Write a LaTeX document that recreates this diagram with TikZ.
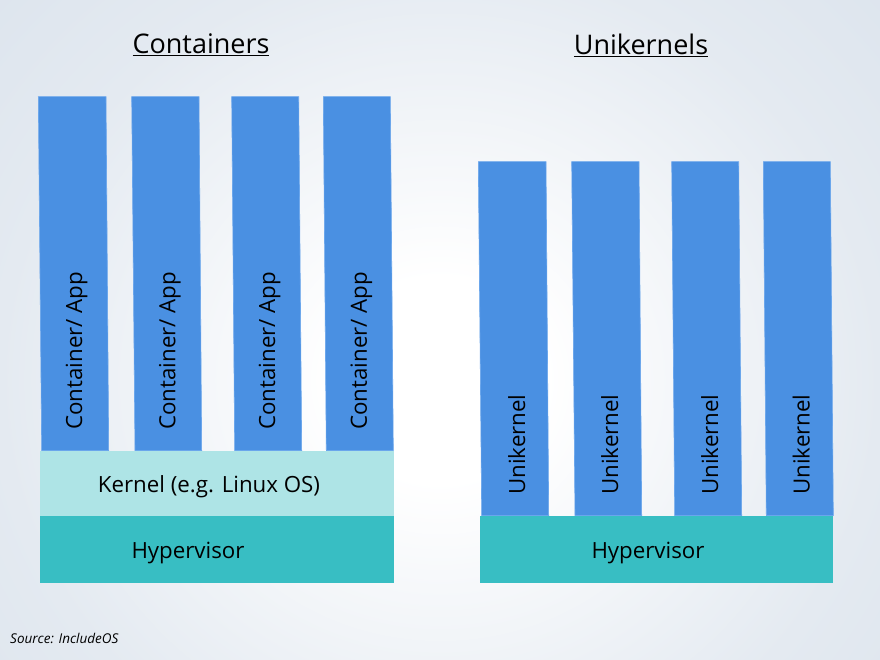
\documentclass[tikz,border=0pt]{standalone}
\usepackage{fontspec}
\setmainfont{Open Sans}
\definecolor{colblue}{HTML}{4A90E2}
\definecolor{coledge}{HTML}{6AA6EC}
\definecolor{kernelc}{HTML}{AEE4E6}
\definecolor{hyperc}{HTML}{38BEC3}
\pgfdeclareradialshading{bgshade}{\pgfpoint{0bp}{0bp}}{%
  color(0bp)=(white); color(6bp)=(white); color(25bp)=(rgb,255:red,228;green,234;blue,241);
  color(36bp)=(rgb,255:red,220;green,228;blue,237); color(50bp)=(rgb,255:red,220;green,228;blue,237)}
\begin{document}
\begin{tikzpicture}[x=1pt,y=-1pt,
  colbox/.style={fill=colblue,draw=coledge,line width=0.6pt},
  kernelbox/.style={fill=kernelc,draw=none},
  hyperbox/.style={fill=hyperc,draw=none},
  coltext/.style={rotate=90,anchor=west,inner sep=0pt,font=\fontsize{22.3}{26}\selectfont,text=black},
  layertext/.style={inner sep=0pt,font=\fontsize{22.3}{26}\selectfont,text=black},
  titletext/.style={inner sep=0pt,font=\fontsize{27}{32}\selectfont,text=black}]
\useasboundingbox (0,0) rectangle (880,660);
\begin{scope}
  \clip (0,0) rectangle (880,660);
  \shade[shading=bgshade] (0,-40) rectangle (880,800);
\end{scope}

% ---------- Containers ----------
\node[titletext] (tc) at (201,45) {\underline{Containers}};

\fill[kernelbox] (40,450.5) rectangle (393.5,516);
\fill[hyperbox] (40,516) rectangle (393.5,582.5);
\node[layertext] (kern) at (209,487) {Kernel (e.g. Linux OS)};
\node[layertext] (hypl) at (188,553) {Hypervisor};

\foreach \tl/\tr/\bl/\br [count=\i] in {38.3/106/41.7/108.7, 131.7/199/135/201.7, 231.7/298.7/234.7/301.7, 323.3/390.3/326.3/393.3}{
  \filldraw[colbox] (\tl,96.7) -- (\tr,96.7) -- (\br,450.5) -- (\bl,450.5) -- cycle;
  \node[coltext] (c\i) at ({(\bl+\br)/2+1.5},430) {Container/ App};
}

% ---------- Unikernels ----------
\node[titletext] (tu) at (641,45) {\underline{Unikernels}};

\fill[hyperbox] (480,516) rectangle (833.3,583.3);
\node[layertext] (hypr) at (648,553) {Hypervisor};

\foreach \tl/\tr/\bl/\br [count=\i] in {478.3/546/481.7/548.7, 571.7/639/575/641.7, 671.7/738.7/674.7/741.7, 763.3/830.3/766.3/833.3}{
  \filldraw[colbox] (\tl,161.7) -- (\tr,161.7) -- (\br,515.5) -- (\bl,515.5) -- cycle;
  \node[coltext] (u\i) at ({(\bl+\br)/2+1.5},495) {Unikernel};
}

% ---------- Source ----------
\node[anchor=west,inner sep=0pt,font=\fontsize{13.5}{16}\selectfont\itshape] (src) at (10,638) {Source: IncludeOS};
\end{tikzpicture}
\end{document}
